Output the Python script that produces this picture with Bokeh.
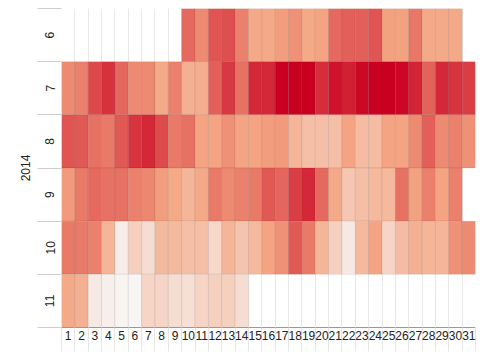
from bokeh.plotting import figure
from bokeh.models import ColumnDataSource, Range1d, FixedTicker, LinearColorMapper
from bokeh.embed import file_html
from bokeh.resources import INLINE

# ---- data ----
year = "2014"
months = [6, 7, 8, 9, 10, 11]
days = list(range(1, 32))

jun = [None] * 9 + [68, 58, 74, 76, 61, 47, 47, 52, 56, 48, 50, 68, 71, 71, 74, 51, 51, 64, 47, 47, 47, None]
jul = [58, 61, 78, 85, 69, 58, 58, 48, 61, 43, 45, 71, 83, 66, 88, 88, 100, 100, 100, 86,
       94, 90, 97, 100, 100, 98, 89, 70, 88, 84, 81]
aug = [74, 73, 66, 63, 73, 84, 88, 77, 63, 66, 50, 50, 56, 50, 50, 52, 53, 40, 34, 34,
       34, 50, 36, 36, 50, 50, 58, 71, 58, 61, 56]
sep = [53, 63, 68, 66, 66, 61, 59, 52, 48, 40, 47, 63, 58, 61, 63, 73, 69, 81, 88, 68,
       47, 29, 34, 38, 38, 66, 51, 61, 50, 61, None]
oct_ = [63, 63, 61, 40, 7, 24, 16, 38, 38, 34, 34, 19, 40, 31, 38, 50, 56, 73, 63, 40,
        24, 9, 38, 50, 21, 36, 43, 40, 40, 56, 58]
nov = [47, 43, 9, 5, 2, 1, 21, 21, 16, 15, 21, 24, 24, 16] + [None] * 17

series = [jun, jul, aug, sep, oct_, nov]

xs, ys, vals = [], [], []
for m, row in zip(months, series):
    for d, v in zip(days, row):
        if v is not None:
            xs.append(d)
            ys.append(m)
            vals.append(v)
source = ColumnDataSource(dict(day=xs, month=ys, value=vals))

# ---- palette (white -> salmon -> red) ----
def interp_palette(anchors, n=256):
    def h2rgb(h):
        h = h.lstrip("#")
        return [int(h[i:i + 2], 16) for i in (0, 2, 4)]
    cols = [h2rgb(a) for a in anchors]
    out = []
    segs = len(cols) - 1
    for i in range(n):
        t = i / (n - 1) * segs
        k = min(int(t), segs - 1)
        f = t - k
        c = [round(cols[k][j] + (cols[k + 1][j] - cols[k][j]) * f) for j in range(3)]
        out.append("#%02x%02x%02x" % tuple(c))
    return out

palette = interp_palette(["#f7f7f7", "#f4a582", "#ca0020"])
mapper = LinearColorMapper(palette=palette, low=0, high=100)

p = figure(width=478, height=353, output_backend="svg", toolbar_location=None,
           x_range=Range1d(0.5, 31.5), y_range=Range1d(11.5, 5.5),
           min_border_left=61, min_border_right=3, min_border_top=8, min_border_bottom=26)
p.outline_line_color = None
p.background_fill_color = "white"

p.rect(x="day", y="month", width=1, height=1, source=source,
       fill_color={"field": "value", "transform": mapper},
       line_color="black", line_alpha=0.07, line_width=1)

bounds_x = [d - 0.5 for d in days] + [days[-1] + 0.5]
bounds_y = [m - 0.5 for m in months] + [months[-1] + 0.5]

# x axis
xa = p.xaxis[0]
xa.ticker = FixedTicker(ticks=days, minor_ticks=bounds_x)
xa.major_tick_line_color = None
xa.major_tick_out = 0
xa.minor_tick_in = 0
xa.minor_tick_out = 24
xa.minor_tick_line_color = "#e6e6e6"
xa.axis_line_color = "#999999"
xa.major_label_standoff = -21
xa.major_label_text_font = "Liberation Sans"
xa.major_label_text_font_size = "12px"
xa.major_label_text_color = "#222222"

# y axis
ya = p.yaxis[0]
ya.ticker = FixedTicker(ticks=months, minor_ticks=bounds_y)
ya.major_tick_line_color = None
ya.major_tick_out = 0
ya.minor_tick_in = 0
ya.minor_tick_out = 24
ya.minor_tick_line_color = "#cccccc"
ya.axis_line_color = None
ya.major_label_orientation = "vertical"
ya.major_label_standoff = -17
ya.major_label_text_font = "Liberation Sans"
ya.major_label_text_font_size = "12px"
ya.major_label_text_color = "#222222"
ya.axis_label = year
ya.axis_label_standoff = 13
ya.axis_label_text_font = "Liberation Sans"
ya.axis_label_text_font_size = "12px"
ya.axis_label_text_font_style = "normal"
ya.axis_label_text_color = "#222222"

# grids
p.xgrid.ticker = FixedTicker(ticks=bounds_x)
p.xgrid.grid_line_color = "#e8e8e8"
p.ygrid.ticker = FixedTicker(ticks=[bounds_y[0]])
p.ygrid.grid_line_color = "#999999"
p.ygrid.level = "annotation"

open("out.html", "w").write(file_html(p, INLINE))
